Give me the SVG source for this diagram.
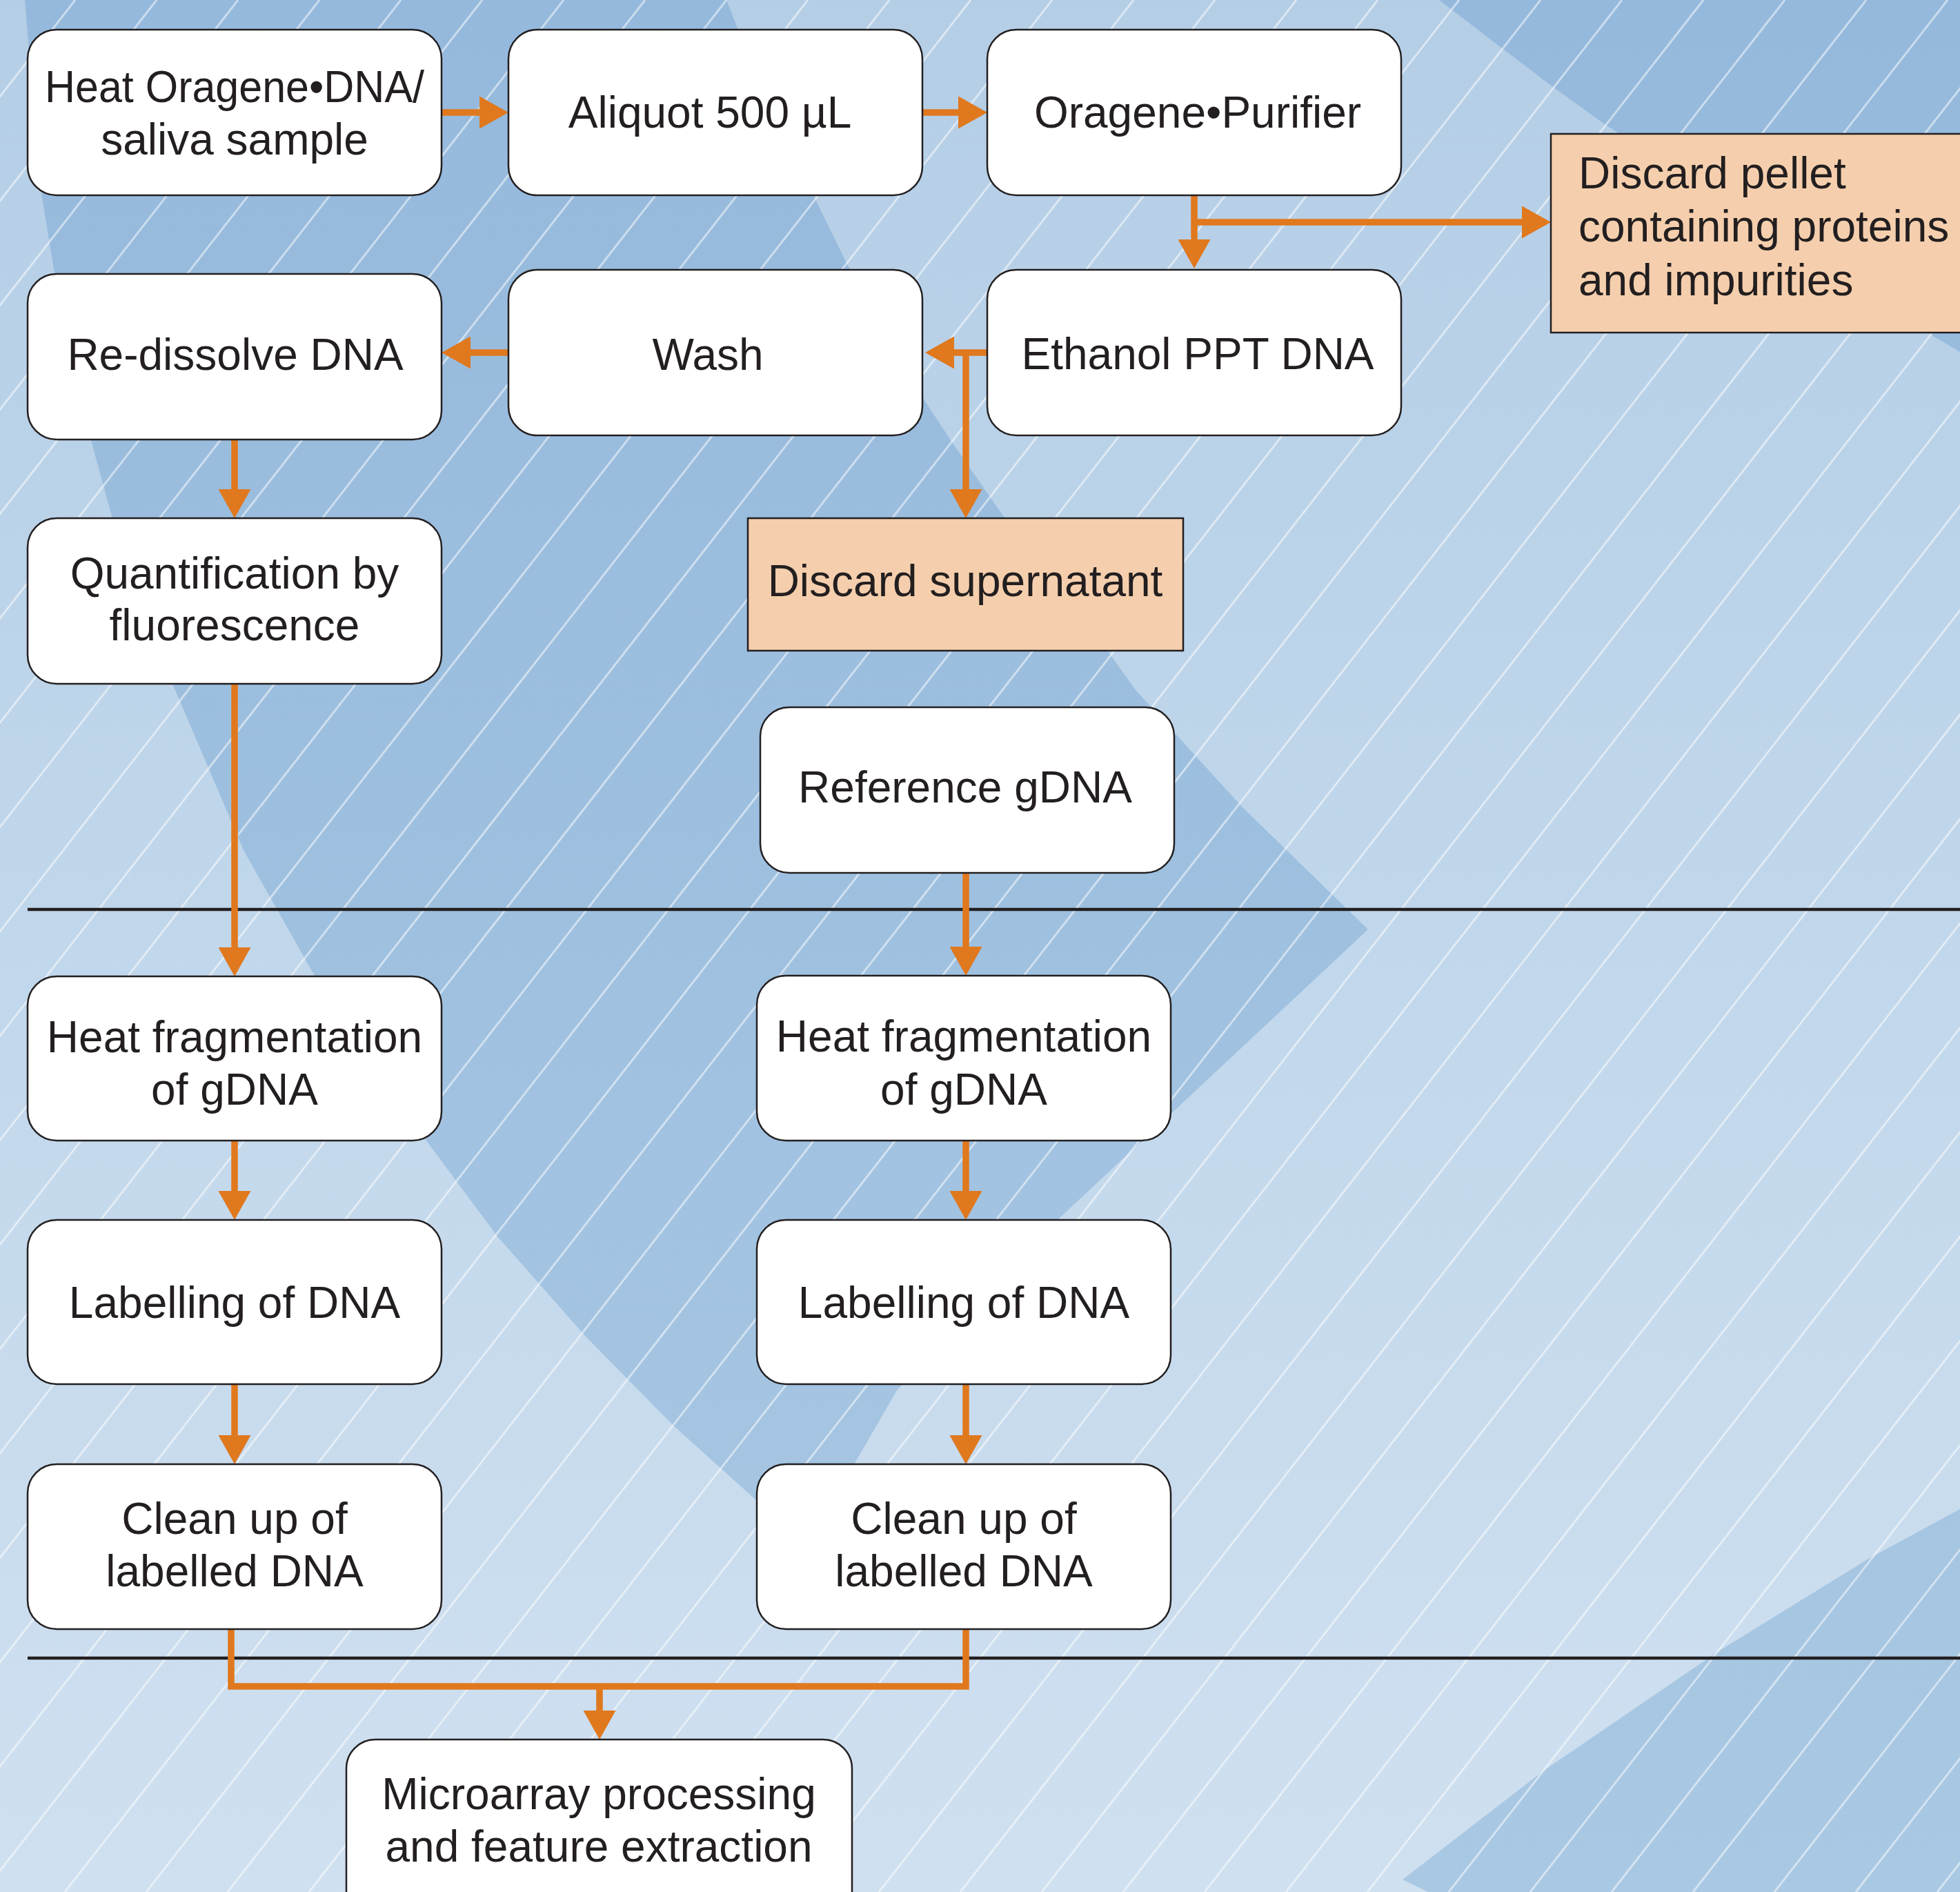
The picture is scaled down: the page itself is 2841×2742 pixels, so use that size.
<svg xmlns="http://www.w3.org/2000/svg" width="2841" height="2742" viewBox="0 0 2841 2742">
<defs>
<linearGradient id="bg" x1="0" y1="0" x2="0" y2="2742" gradientUnits="userSpaceOnUse">
<stop offset="0" stop-color="#b4cee6"/>
<stop offset="0.4" stop-color="#bed5ea"/>
<stop offset="1" stop-color="#cfe0f0"/>
</linearGradient>
<linearGradient id="dk" x1="0" y1="0" x2="0" y2="2742" gradientUnits="userSpaceOnUse">
<stop offset="0" stop-color="#95b9dc"/>
<stop offset="1" stop-color="#a9c8e3"/>
</linearGradient>
<marker id="ah" markerUnits="userSpaceOnUse" viewBox="0 0 42 47" markerWidth="42" markerHeight="47" refX="1" refY="23.5" orient="auto">
<path d="M0,0 L42,23.5 L0,47 Z" fill="#e0781e"/>
</marker>
<style>
.node{fill:#ffffff;stroke:#231f20;stroke-width:2.5}
.disc{fill:#f5cfad;stroke:#231f20;stroke-width:2.5}
.t{font-family:"Liberation Sans",Arial,sans-serif;font-size:64px;fill:#231f20;text-anchor:middle}
.tl{font-family:"Liberation Sans",Arial,sans-serif;font-size:64px;fill:#231f20}
.c{fill:none;stroke:#e0781e;stroke-width:9.5;stroke-linejoin:miter;stroke-linecap:butt}
.arr{marker-end:url(#ah)}
.sep{stroke:#231f20;stroke-width:4.5}
.hatch{fill:none;stroke:#ffffff;stroke-opacity:0.5;stroke-width:3}
</style>
</defs>
<g id="background">
<rect x="0" y="0" width="2841" height="2742" fill="url(#bg)"/>
<path d="M1053,0 L1069,41 L1181,287 L1228,383 L1340,580 L1378,638 L1455,749 L1601,937 L1646,1000 L1800,1169 L1983,1347 L1722,1591 L1536,1765 L1300,2015 L1237,2124 L1160,2230 L1097,2175 L976,2066 L848,1936 L721,1792 L612,1645 L453,1409 L353,1232 L250,991 L165,759 L116,580 L80,402 L58,268 L36,0 Z" fill="url(#dk)"/>
<path d="M2086,0 L2176,69 L2251,126 L2326,180 L2560,330 L2800,486 L2841,510 L2841,0 Z" fill="url(#dk)"/>
<path d="M2841,2187 L2710,2258 L2491,2393 L2239,2565 L2033,2724 L2070,2742 L2841,2742 Z" fill="url(#dk)"/>
<path class="hatch" d="M109,0 l-2139,2742 M227,0 l-2139,2742 M345,0 l-2139,2742 M463,0 l-2139,2742 M581,0 l-2139,2742 M699,0 l-2139,2742 M817,0 l-2139,2742 M935,0 l-2139,2742 M1053,0 l-2139,2742 M1171,0 l-2139,2742 M1289,0 l-2139,2742 M1407,0 l-2139,2742 M1525,0 l-2139,2742 M1643,0 l-2139,2742 M1761,0 l-2139,2742 M1879,0 l-2139,2742 M1997,0 l-2139,2742 M2115,0 l-2139,2742 M2233,0 l-2139,2742 M2351,0 l-2139,2742 M2469,0 l-2139,2742 M2587,0 l-2139,2742 M2705,0 l-2139,2742 M2823,0 l-2139,2742 M2941,0 l-2139,2742 M3059,0 l-2139,2742 M3177,0 l-2139,2742 M3295,0 l-2139,2742 M3413,0 l-2139,2742 M3531,0 l-2139,2742 M3649,0 l-2139,2742 M3767,0 l-2139,2742 M3885,0 l-2139,2742 M4003,0 l-2139,2742 M4121,0 l-2139,2742 M4239,0 l-2139,2742 M4357,0 l-2139,2742 M4475,0 l-2139,2742 M4593,0 l-2139,2742 M4711,0 l-2139,2742 M4829,0 l-2139,2742 M4947,0 l-2139,2742"/>
<line class="sep" x1="40" y1="1318" x2="2841" y2="1318"/>
<line class="sep" x1="40" y1="2403" x2="2841" y2="2403"/>
</g>
<g id="connectors">
<path class="c arr" d="M640,163 H696"/>
<path class="c arr" d="M1337,163 H1390"/>
<path class="c arr" d="M1731,283 V348"/>
<path class="c arr" d="M1731,322 H2207"/>
<path class="c arr" d="M1431,511 H1382"/>
<path class="c arr" d="M1400,507 V710"/>
<path class="c arr" d="M737,511 H681"/>
<path class="c arr" d="M340,637 V710"/>
<path class="c arr" d="M340,991 V1374"/>
<path class="c arr" d="M1400,1265 V1373"/>
<path class="c arr" d="M340,1653 V1727"/>
<path class="c arr" d="M1400,1653 V1727"/>
<path class="c arr" d="M340,2006 V2081"/>
<path class="c arr" d="M1400,2006 V2081"/>
<path class="c" d="M335,2361 V2444 H1400 V2361"/>
<path class="c arr" d="M869,2444 V2480"/>
</g>
<g id="node-heat-oragene">
<rect class="node" x="40" y="43" width="600" height="240" rx="42" ry="42"/>
<text class="t" x="340" y="148" textLength="550" lengthAdjust="spacingAndGlyphs">Heat Oragene•DNA/</text>
<text class="t" x="340" y="224">saliva sample</text>
</g>
<g id="node-aliquot">
<rect class="node" x="737" y="43" width="600" height="240" rx="42" ry="42"/>
<text class="t" x="1029" y="185">Aliquot 500 µL</text>
</g>
<g id="node-purifier">
<rect class="node" x="1431" y="43" width="600" height="240" rx="42" ry="42"/>
<text class="t" x="1736" y="185">Oragene•Purifier</text>
</g>
<g id="node-discard-pellet">
<rect class="disc" x="2248" y="194" width="700" height="288"/>
<text class="tl" x="2288" y="273">Discard pellet</text>
<text class="tl" x="2288" y="350">containing proteins</text>
<text class="tl" x="2288" y="428">and impurities</text>
</g>
<g id="node-redissolve">
<rect class="node" x="40" y="397" width="600" height="240" rx="42" ry="42"/>
<text class="t" x="341" y="536">Re-dissolve DNA</text>
</g>
<g id="node-wash">
<rect class="node" x="737" y="391" width="600" height="240" rx="42" ry="42"/>
<text class="t" x="1026" y="536">Wash</text>
</g>
<g id="node-ethanol">
<rect class="node" x="1431" y="391" width="600" height="240" rx="42" ry="42"/>
<text class="t" x="1736" y="535">Ethanol PPT DNA</text>
</g>
<g id="node-discard-supernatant">
<rect class="disc" x="1084" y="751" width="631" height="192"/>
<text class="t" x="1399" y="864">Discard supernatant</text>
</g>
<g id="node-quantification">
<rect class="node" x="40" y="751" width="600" height="240" rx="42" ry="42"/>
<text class="t" x="340" y="853">Quantification by</text>
<text class="t" x="340" y="928">fluorescence</text>
</g>
<g id="node-reference">
<rect class="node" x="1102" y="1025" width="600" height="240" rx="42" ry="42"/>
<text class="t" x="1399" y="1163">Reference gDNA</text>
</g>
<g id="node-heatfrag-left">
<rect class="node" x="40" y="1415" width="600" height="238" rx="42" ry="42"/>
<text class="t" x="340" y="1525">Heat fragmentation</text>
<text class="t" x="340" y="1601">of gDNA</text>
</g>
<g id="node-heatfrag-right">
<rect class="node" x="1097" y="1414" width="600" height="239" rx="42" ry="42"/>
<text class="t" x="1397" y="1524">Heat fragmentation</text>
<text class="t" x="1397" y="1601">of gDNA</text>
</g>
<g id="node-labelling-left">
<rect class="node" x="40" y="1768" width="600" height="238" rx="42" ry="42"/>
<text class="t" x="340" y="1910">Labelling of DNA</text>
</g>
<g id="node-labelling-right">
<rect class="node" x="1097" y="1768" width="600" height="238" rx="42" ry="42"/>
<text class="t" x="1397" y="1910">Labelling of DNA</text>
</g>
<g id="node-cleanup-left">
<rect class="node" x="40" y="2122" width="600" height="239" rx="42" ry="42"/>
<text class="t" x="340" y="2223">Clean up of</text>
<text class="t" x="340" y="2299">labelled DNA</text>
</g>
<g id="node-cleanup-right">
<rect class="node" x="1097" y="2122" width="600" height="239" rx="42" ry="42"/>
<text class="t" x="1397" y="2223">Clean up of</text>
<text class="t" x="1397" y="2299">labelled DNA</text>
</g>
<g id="node-microarray">
<rect class="node" x="502" y="2521" width="733" height="300" rx="42" ry="42"/>
<text class="t" x="868" y="2622">Microarray processing</text>
<text class="t" x="868" y="2698">and feature extraction</text>
</g>
</svg>
